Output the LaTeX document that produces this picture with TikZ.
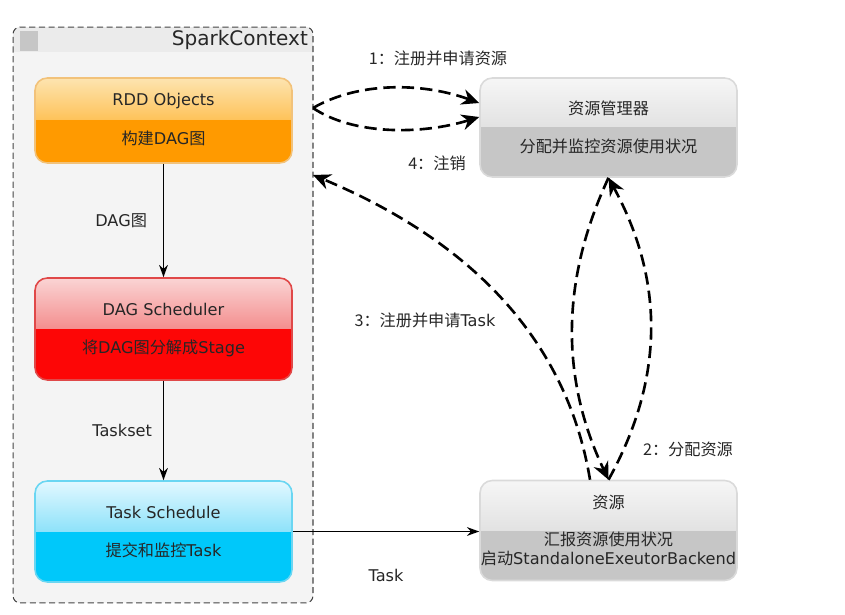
\documentclass[tikz,border=0pt]{standalone}
\usepackage{fontspec}
\setmainfont{DejaVu Sans}
\newfontfamily\cjk{Noto Sans CJK SC}
\newcommand\zh[1]{{\cjk #1}}
\usetikzlibrary{arrows.meta}
\definecolor{ctxFill}{HTML}{F4F4F4}
\definecolor{ctxBand}{HTML}{EBEBEB}
\definecolor{ctxEdge}{HTML}{444444}
\definecolor{txtDark}{HTML}{262626}
\definecolor{rddTop}{HTML}{FDE4B0}
\definecolor{rddMid}{HTML}{FFA000}
\definecolor{rddLow}{HTML}{FF9A00}
\definecolor{rddEdge}{HTML}{F2C27A}
\definecolor{dagTop}{HTML}{FAD4D4}
\definecolor{dagMid}{HTML}{EE4848}
\definecolor{dagLow}{HTML}{FD0606}
\definecolor{dagEdge}{HTML}{E04848}
\definecolor{tskTop}{HTML}{E2F8FF}
\definecolor{tskMid}{HTML}{3ACCF5}
\definecolor{tskLow}{HTML}{00C8FA}
\definecolor{tskEdge}{HTML}{6AD6F2}
\definecolor{resTop}{HTML}{F6F6F6}
\definecolor{resMid}{HTML}{CECECE}
\definecolor{resLow}{HTML}{C6C6C6}
\definecolor{resEdge}{HTML}{DADADA}

\begin{document}
\begin{tikzpicture}[x=0.02cm,y=-0.02cm,
 ctxbox/.style={draw=ctxEdge,fill=ctxFill,line width=0.6pt,dash pattern=on 3.5pt off 2pt,rounded corners=4pt,minimum width=6cm,minimum height=11.52cm,
   path picture={\fill[ctxBand,sharp corners] (path picture bounding box.north west) rectangle ([yshift=-0.5cm]path picture bounding box.north east);}},
 icon/.style={fill=resLow,minimum width=0.36cm,minimum height=0.42cm,inner sep=0pt},
 title/.style={font=\fontsize{11.4}{13}\selectfont,text=txtDark,inner sep=1pt},
 stage/.style={rounded corners=7pt,line width=0.9pt,minimum width=5.14cm},
 lower/.style={path picture={\fill[#1,sharp corners] (path picture bounding box.west) rectangle (path picture bounding box.south east);}},
 txt/.style={font=\fontsize{9.2}{11}\selectfont,text=txtDark,inner sep=1pt},
 lbl/.style={font=\fontsize{9.2}{11}\selectfont,text=txtDark},
 flow/.style={-{Stealth[length=7pt,width=5pt]},line width=0.8pt},
 msg/.style={-{Stealth[length=10pt,width=9pt]},line width=1.5pt,dash pattern=on 7pt off 3.5pt}
]
\useasboundingbox (0,0) rectangle (845,615);

% SparkContext
\node[ctxbox] (ctx) at (163,315) {};
\node[icon] (ctxIcon) at (29,41) {};
\node[title,anchor=east] (ctxName) at (310,40) {SparkContext};

\node[stage,minimum height=1.7cm,draw=rddEdge,top color=rddTop,bottom color=rddMid,lower=rddLow] (rdd) at (163.5,120.5) {};
\node[txt] (rddName) at (163.5,101) {RDD Objects};
\node[txt] (rddJob) at (163.5,138) {\zh{构建}DAG\zh{图}};

\node[stage,minimum height=2.04cm,draw=dagEdge,top color=dagTop,bottom color=dagMid,lower=dagLow] (dag) at (163.5,329) {};
\node[txt] (dagName) at (163.5,309) {DAG Scheduler};
\node[txt] (dagJob) at (163.5,348) {\zh{将}DAG\zh{图分解成}Stage};

\node[stage,minimum height=2.02cm,draw=tskEdge,top color=tskTop,bottom color=tskMid,lower=tskLow] (tsk) at (163.5,531.5) {};
\node[txt] (tskName) at (163.5,512) {Task Schedule};
\node[txt] (tskJob) at (163.5,550) {\zh{提交和监控}Task};

% cluster side
\node[stage,minimum height=1.98cm,draw=resEdge,top color=resTop,bottom color=resMid,lower=resLow] (rm) at (608.5,127.5) {};
\node[txt] (rmName) at (608.5,108) {\zh{资源管理器}};
\node[txt] (rmJob) at (608.5,146) {\zh{分配并监控资源使用状况}};

\node[stage,minimum height=2cm,draw=resEdge,top color=resTop,bottom color=resMid,lower=resLow] (res) at (608.5,530.5) {};
\node[txt] (resName) at (608.5,502) {\zh{资源}};
\node[txt] (resJob) at (608.5,539) {\zh{汇报资源使用状况}};
\node[txt] (resRun) at (608.5,558) {\zh{启动}StandaloneExeutorBackend};

\draw[flow] (rdd) -- node[lbl,left=0.2cm] (dagLbl) {DAG\zh{图}} (dag);
\draw[flow] (dag) -- node[lbl,left=0.1cm] (setLbl) {Taskset} (tsk);
\draw[flow] (tsk) -- node[lbl,below=0.62cm] (taskLbl) {Task} (tsk -| res.west);

\coordinate (ctxR1) at (313,108);
\coordinate (ctxR3) at (313,175);
\draw[msg] (ctxR1) .. controls +(45,-26) and +(-58,-21) .. ([yshift=0.49cm]rm.west);
\draw[msg] (ctxR1) .. controls +(40,27) and +(-58,18) .. ([yshift=0.21cm]rm.west);
\draw[msg] ([xshift=-0.37cm]res.north) .. controls +(-25,-151) and +(144,60) .. (ctxR3);
\draw[msg] (rm.south) .. controls +(-48,103) and +(-48,-101) .. (res.north);
\draw[msg] (res.north) .. controls +(56,-101) and +(56,103) .. (rm.south);

\node[lbl] (reqLbl) at (438,58) {\zh{1：注册并申请资源}};
\node[lbl] (offLbl) at (437,163) {\zh{4：注销}};
\node[lbl] (taskReqLbl) at (425,320) {\zh{3：注册并申请}Task};
\node[lbl] (allocLbl) at (688,449) {\zh{2：分配资源}};
\end{tikzpicture}
\end{document}
